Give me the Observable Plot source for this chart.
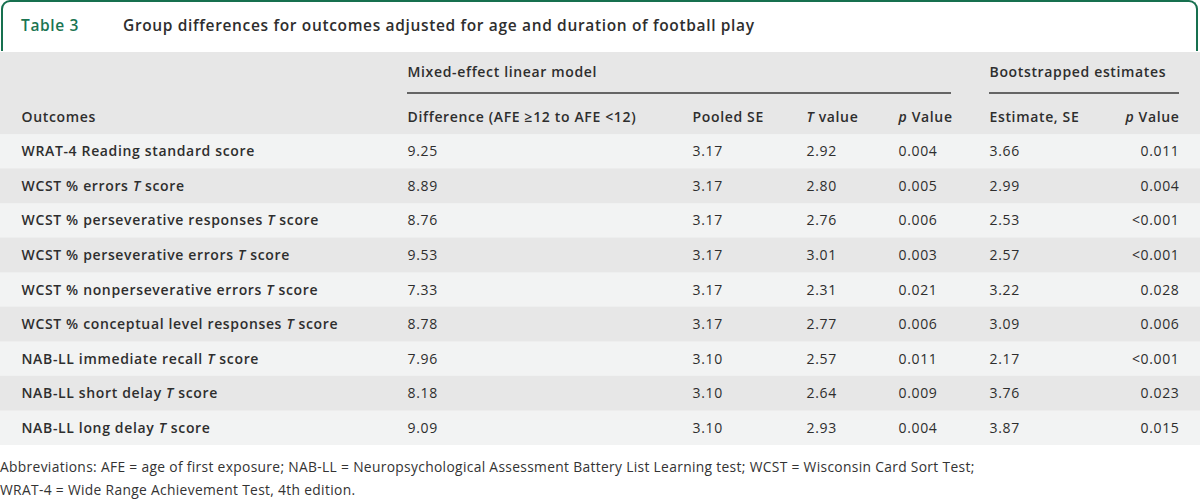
<!DOCTYPE html>
<html>
<head>
<meta charset="utf-8">
<script src="https://cdn.jsdelivr.net/npm/d3@7"></script>
<script src="https://cdn.jsdelivr.net/npm/@observablehq/plot@0.6"></script>
<style>
  html, body { margin: 0; padding: 0; background: #fff; overflow: hidden; }
  body { font-family: "Open Sans", "Noto Sans", "DejaVu Sans", sans-serif; color: #2e2e2e; width: 1200px; }
  #title { box-sizing: border-box; width: 1197px; margin-left: 1px; height: 51px;
           border: 2.5px solid #17704f; border-bottom: none; border-radius: 9px 9px 0 0;
           position: relative; font-weight: 600; font-size: 15.5px; letter-spacing: 0.65px; }
  #title .num { position: absolute; left: 18px; top: 12px; color: #1b7552; }
  #title .txt { position: absolute; left: 120px; top: 12px; color: #2e2e2e; }
  #chart { margin-top: 1px; line-height: 0; }
  #foot { font-size: 13.8px; line-height: 23px; padding-top: 10px; color: #333; white-space: nowrap; letter-spacing: 0.33px; }
</style>
</head>
<body>
<div id="title"><span class="num">Table 3</span><span class="txt">Group differences for outcomes adjusted for age and duration of football play</span></div>
<div id="chart"></div>
<div id="foot">Abbreviations: AFE = age of first exposure; NAB-LL = Neuropsychological Assessment Battery List Learning test; WCST = Wisconsin Card Sort Test;<br>WRAT-4 = Wide Range Achievement Test, 4th edition.</div>
<script>
// ---- data ----
const outcomes = [
  "WRAT-4 Reading standard score",
  "WCST % errors T score",
  "WCST % perseverative responses T score",
  "WCST % perseverative errors T score",
  "WCST % nonperseverative errors T score",
  "WCST % conceptual level responses T score",
  "NAB-LL immediate recall T score",
  "NAB-LL short delay T score",
  "NAB-LL long delay T score"
];
const difference   = [9.25, 8.89, 8.76, 9.53, 7.33, 8.78, 7.96, 8.18, 9.09];
const pooledSE     = [3.17, 3.17, 3.17, 3.17, 3.17, 3.17, 3.10, 3.10, 3.10];
const tValue       = [2.92, 2.80, 2.76, 3.01, 2.31, 2.77, 2.57, 2.64, 2.93];
const pValue       = ["0.004", "0.005", "0.006", "0.003", "0.021", "0.006", "0.011", "0.009", "0.004"];
const bootEstimate = [3.66, 2.99, 2.53, 2.57, 3.22, 3.09, 2.17, 3.76, 3.87];
const bootP        = ["0.011", "0.004", "<0.001", "<0.001", "0.028", "0.006", "<0.001", "0.023", "0.015"];

const columnKeys   = ["out", "diff", "se", "t", "p", "est", "bp"];
const columnLabels = ["Outcomes", "Difference (AFE \u226512 to AFE <12)", "Pooled SE", "T value", "p Value", "Estimate, SE", "p Value"];
const groupLabels  = ["Mixed-effect linear model", "Bootstrapped estimates"];

// ---- layout (positions, not data) ----
const colDomain = [...columnKeys, "mixEnd", "bootEnd"];
const colRange  = [21, 407, 692, 806, 898, 989, 1179, 951, 1179];
const headerRows = 82 / 34.5;   // header height in row units
const layout = {groupY: -1.8, ruleY: -1.205, headY: -0.49};

// ---- table built from the arrays ----
const rows = outcomes.map((o, i) => ({
  out: o,
  diff: difference[i].toFixed(2),
  se: pooledSE[i].toFixed(2),
  t: tValue[i].toFixed(2),
  p: pValue[i],
  est: bootEstimate[i].toFixed(2),
  bp: bootP[i]
}));
const columns = columnKeys.map((k, i) => ({key: k, label: columnLabels[i], anchor: k === "bp" ? "end" : "start"}));
const groups = [
  {label: groupLabels[0], from: "diff", to: "mixEnd"},
  {label: groupLabels[1], from: "est", to: "bootEnd"}
];

const ink = "#2e2e2e";
const font = "'Open Sans', 'Noto Sans', sans-serif";
const marks = [
  Plot.rect(rows, {y1: (d, i) => i, y2: (d, i) => i + 1, fill: (d, i) => (i % 2 ? "even" : "odd")}),
  Plot.text(groups, {x: "from", y: () => layout.groupY, text: "label", textAnchor: "start", fontWeight: 600, fontSize: 14, fill: ink}),
  Plot.ruleY(groups, {x1: "from", x2: "to", y: () => layout.ruleY, stroke: "#3a3a3a", strokeWidth: 1.3}),
  Plot.text(columns.filter(c => c.anchor === "start"), {x: "key", y: () => layout.headY, text: "label", textAnchor: "start", fontWeight: 600, fontSize: 14, fill: ink}),
  Plot.text(columns.filter(c => c.anchor === "end"), {x: "key", y: () => layout.headY, text: "label", textAnchor: "end", fontWeight: 600, fontSize: 14, fill: ink})
];
for (const c of columns) {
  marks.push(Plot.text(rows, {
    x: () => c.key,
    y: (d, i) => i + 0.5,
    text: c.key,
    textAnchor: c.anchor,
    fontWeight: c.key === "out" ? 600 : 400,
    fontSize: 14,
    fill: ink
  }));
}

const chart = Plot.plot({
  width: 1200,
  height: 393,
  margin: 0,
  style: {background: "#e7e7e7", fontFamily: font, letterSpacing: "0.65px"},
  x: {type: "ordinal", domain: colDomain, range: colRange, axis: null},
  y: {type: "linear", domain: [-headerRows, outcomes.length], range: [0, 393], axis: null},
  color: {type: "ordinal", domain: ["odd", "even"], range: ["#f2f3f3", "#e7e7e7"]},
  marks
});

// italicise the statistical symbols (T, p)
d3.select(chart).selectAll("text").each(function () {
  const t = this.textContent;
  const m = t.match(/^(.*?)\b([Tp])( (?:score|value|Value))$/);
  if (!m) return;
  const sel = d3.select(this);
  sel.text(null);
  if (m[1]) sel.append("tspan").text(m[1]);
  sel.append("tspan").attr("font-style", "italic").text(m[2]);
  sel.append("tspan").text(m[3]);
});

document.getElementById("chart").appendChild(chart);
</script>
</body>
</html>
